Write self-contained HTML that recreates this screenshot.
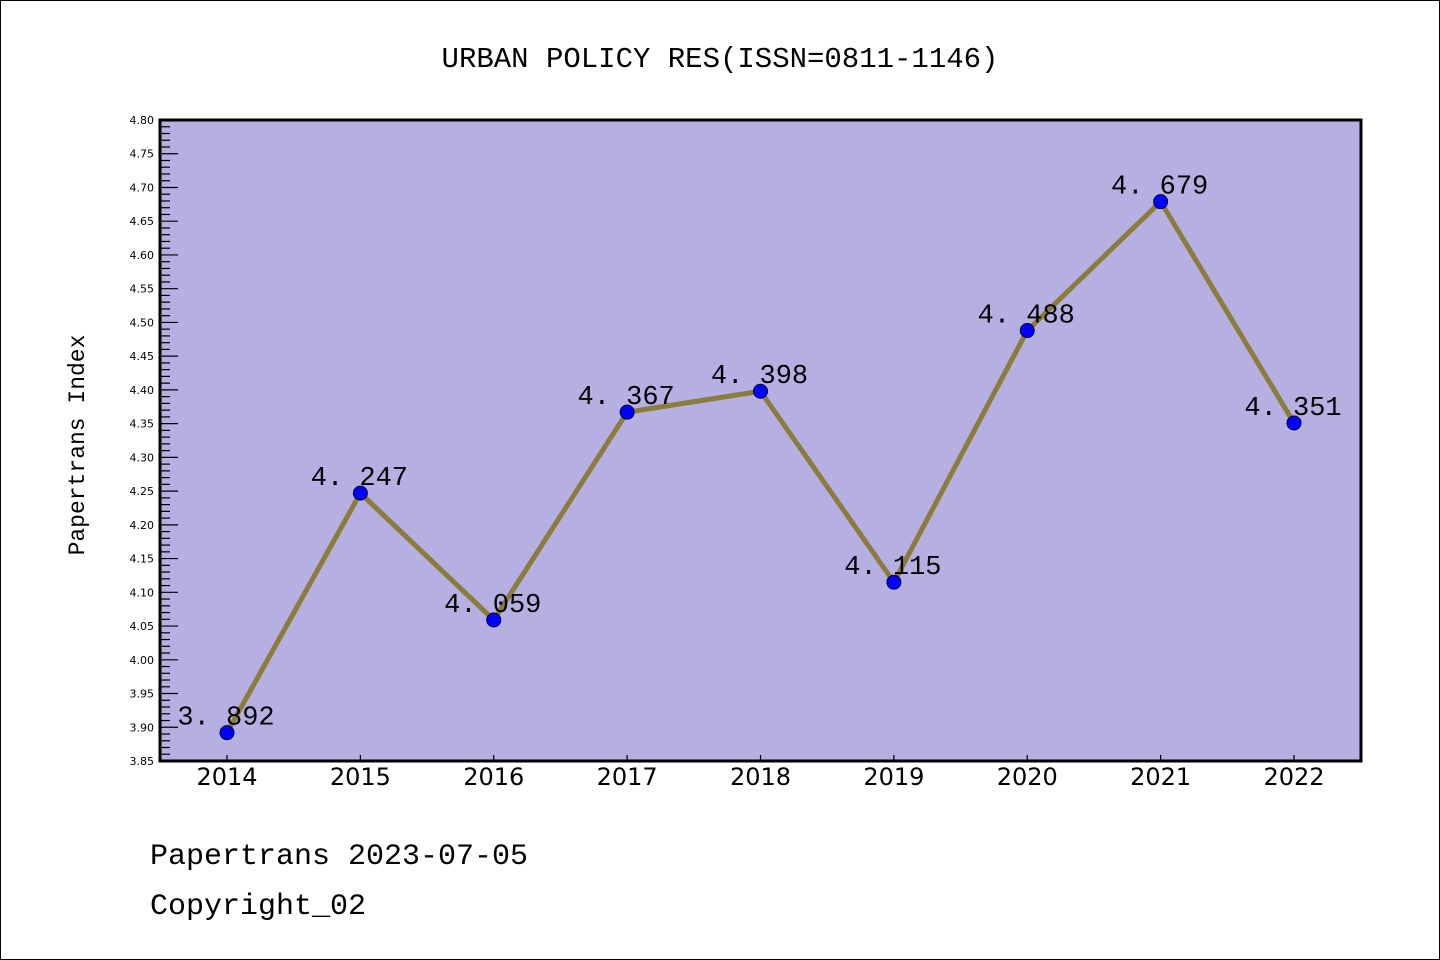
<!DOCTYPE html>
<html><head><meta charset="utf-8"><style>
html,body{margin:0;padding:0;background:#fff}
svg{display:block}
</style></head><body>
<svg id="chart" width="1440" height="960" xmlns="http://www.w3.org/2000/svg">
<rect x="0.5" y="0.5" width="1439" height="959" fill="#fff" stroke="#000"/>
<text x="720" y="67" text-anchor="middle" font-family="Liberation Mono, monospace" font-size="29" fill="#000">URBAN POLICY RES(ISSN=0811-1146)</text>
<rect x="160" y="120" width="1201" height="641" fill="#b5afe2"/>
<g id="axes"></g>
<g id="marks"></g>
<rect x="160" y="120" width="1201" height="641" fill="none" stroke="#000" stroke-width="3"/>
<text transform="translate(84,445) rotate(-90)" text-anchor="middle" font-family="Liberation Mono, monospace" font-size="23" fill="#000">Papertrans Index</text>
<text x="150" y="864" font-family="Liberation Mono, monospace" font-size="30" fill="#000">Papertrans 2023-07-05</text>
<text x="150" y="914" font-family="Liberation Mono, monospace" font-size="30" fill="#000">Copyright_02</text>
</svg>
<script>
const years = ["2014","2015","2016","2017","2018","2019","2020","2021","2022"];
const values = [3.892,4.247,4.059,4.367,4.398,4.115,4.488,4.679,4.351];
const valueLabels = ["3.892","4.247","4.059","4.367","4.398","4.115","4.488","4.679","4.351"];
const yMin = 3.85, yMax = 4.80;
const NS = "http://www.w3.org/2000/svg";
const L=160,R=1361,T=120,B=761;
function xs(i){return 227 + i*(1294-227)/(years.length-1);}
function ys(v){return B - (v-yMin)/(yMax-yMin)*(B-T);}
function mk(tag,attrs,parent){const e=document.createElementNS(NS,tag);for(const k in attrs)e.setAttribute(k,attrs[k]);parent.appendChild(e);return e;}
const axes=document.getElementById('axes'), marks=document.getElementById('marks');
// y ticks
for(let k=0;k<=95;k++){
  const v=yMin+k*0.01; const y=ys(v); const major=(k%5===0);
  const t=mk('line',{x1:L,x2:L+(major?18:10),y1:y,y2:y,stroke:'#000','stroke-width':1.2},axes);
  
  
  if(major){
    const lb=mk('text',{x:L-6,y:y+4,'text-anchor':'end','font-family':'DejaVu Sans, sans-serif','font-size':11,fill:'#000'},axes);
    lb.textContent=v.toFixed(2);
    
    
  }
}
// x ticks
years.forEach((yr,i)=>{
  const x=xs(i);
  const t=mk('line',{x1:x,x2:x,y1:B,y2:B-6,stroke:'#000','stroke-width':1.2},axes);
  
  
  const lb=mk('text',{x:x,y:785,'text-anchor':'middle','font-family':'DejaVu Sans, sans-serif','font-size':24,fill:'#000'},axes);
  lb.textContent=yr;
  
  
});
// line
const pts=values.map((v,i)=>xs(i)+','+ys(v)).join(' ');
const pl=mk('polyline',{points:pts,fill:'none',stroke:'#8c7c3c','stroke-width':5,'stroke-linejoin':'round'},marks);


values.forEach((v,i)=>{
  const c=mk('circle',{cx:xs(i),cy:ys(v),r:7,fill:'#0000ff',stroke:'#000033','stroke-width':1},marks);
  
  
  const lb=mk('text',{x:xs(i)-1,y:ys(v)-8,'text-anchor':'middle','font-family':'Liberation Mono, monospace','font-size':27,fill:'#000'},marks);
  lb.textContent=valueLabels[i].replace('.','. ');
  
  
});
</script>
</body></html>
